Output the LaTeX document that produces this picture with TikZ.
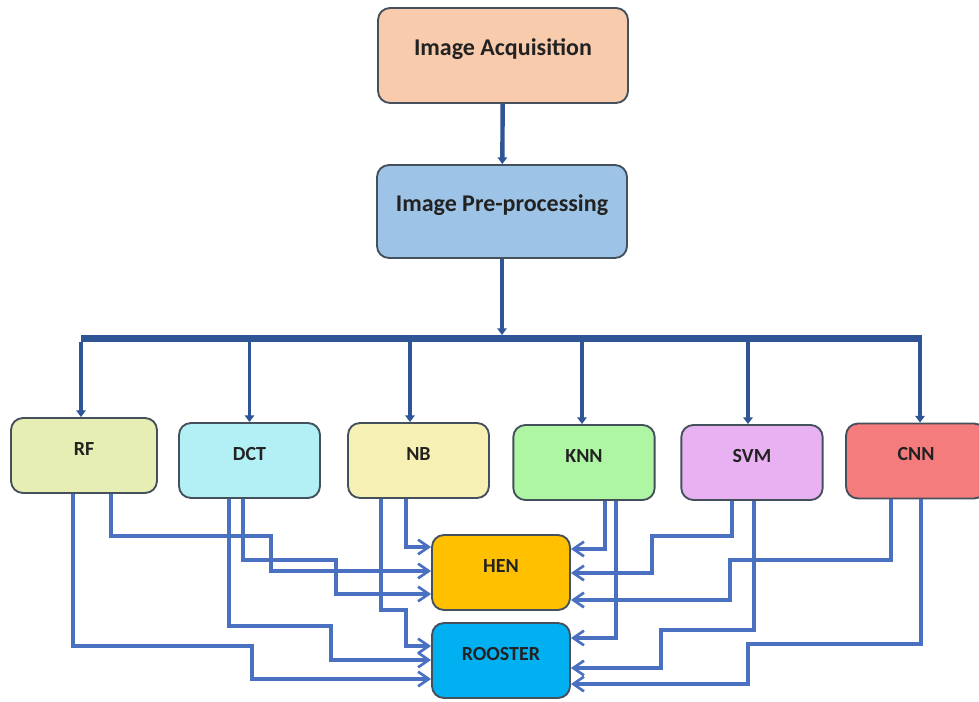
\documentclass[tikz,border=0pt]{standalone}
\usepackage{fontspec}
\setmainfont{Carlito}
\usetikzlibrary{arrows.meta}
\definecolor{edge}{HTML}{44505C}
\definecolor{ink}{HTML}{222222}
\definecolor{busc}{HTML}{2F5597}
\definecolor{linkc}{HTML}{4A70C2}
\definecolor{acqc}{HTML}{F8CBAD}
\definecolor{prec}{HTML}{9DC3E6}
\definecolor{rfc}{HTML}{E6EEB4}
\definecolor{dctc}{HTML}{B2F0F5}
\definecolor{nbc}{HTML}{F6F0B4}
\definecolor{knnc}{HTML}{AEF5A4}
\definecolor{svmc}{HTML}{E8B2F2}
\definecolor{cnnc}{HTML}{F47C7C}
\definecolor{henc}{HTML}{FFC000}
\definecolor{roosterc}{HTML}{00B0F0}
\begin{document}
\begin{tikzpicture}[x=0.75pt,y=-0.75pt,box/.style={draw=edge,line width=1.4pt,rounded corners=9pt,inner sep=0pt,minimum width=106pt,minimum height=56.25pt,font=\fontsize{15}{18}\selectfont\bfseries,text=ink,text height=0.7em,text depth=0.75em},top/.style={box,minimum width=187.5pt,font=\fontsize{18}{21}\selectfont\bfseries},drop/.style={busc,line width=2.6pt,-{Triangle[length=5pt,width=7pt]}},trunk/.style={drop,line width=3.3pt},link/.style={linkc,line width=2.6pt,-{Straight Barb[length=8pt,width=11pt,line width=2pt]}}]
\useasboundingbox[fill=white] (0,0) rectangle (979,702);
\node[top,fill=acqc,minimum height=71.25pt] (acq) at (503,55.5) {Image Acquisition};
\node[top,fill=prec,minimum height=69.75pt] (pre) at (502,211.5) {Image Pre-processing};
\node[box,fill=rfc,minimum width=109.5pt] (rf) at (84,455.5) {RF};
\node[box,fill=dctc,minimum width=105.75pt] (dct) at (249.5,460.5) {DCT};
\node[box,fill=nbc,minimum width=105.75pt] (nb) at (418.5,460.5) {NB};
\node[box,fill=knnc] (knn) at (584,462.5) {KNN};
\node[box,fill=svmc] (svm) at (752,462.5) {SVM};
\node[box,fill=cnnc,minimum width=105pt] (cnn) at (916,461) {CNN};
\node[box,fill=henc,minimum width=103.5pt] (hen) at (501,572.5) {HEN};
\node[box,fill=roosterc,minimum width=103.5pt] (rooster) at (501,660.5) {ROOSTER};
\coordinate (busL) at (81,338.5);\coordinate (busR) at (922,338.5);
\draw[trunk](acq)--(pre);\draw[trunk](pre.south)--(pre.south|-0,335);
\draw[busc,line width=5.5pt](busL)--(busR);
\draw[drop](81,342)--(81,0|-rf.north);\draw[drop](dct.north|-0,342)--(dct.north);\draw[drop](410,342)--(410,0|-nb.north);
\draw[drop](582,342)--(582,0|-knn.north);\draw[drop](748,342)--(748,0|-svm.north);\draw[drop](920,342)--(920,0|-cnn.north);
\draw[link](111,0|-rf.south)|-(271,536)|-(hen.west|-0,571);\draw[link](73,0|-rf.south)|-(252,646)|-(rooster.west|-0,679);
\draw[link](243,0|-dct.south)|-(336,560)|-(hen.west|-0,594);\draw[link](229,0|-dct.south)|-(331,626)|-(rooster.west|-0,660);
\draw[link](406,0|-nb.south)|-(hen.west|-0,547);\draw[link](381,0|-nb.south)|-(406,610)|-(rooster.west|-0,646);
\draw[link](605,0|-knn.south)|-(hen.east|-0,549);\draw[link](616,0|-knn.south)|-(rooster.east|-0,638);
\draw[link](732,0|-svm.south)|-(652,536)|-(hen.east|-0,573);\draw[link](754,0|-svm.south)|-(661,630)|-(rooster.east|-0,668);
\draw[link](891,0|-cnn.south)|-(730,560)|-(hen.east|-0,600);\draw[link](921,0|-cnn.south)|-(748,644)|-(rooster.east|-0,684);
\end{tikzpicture}
\end{document}
